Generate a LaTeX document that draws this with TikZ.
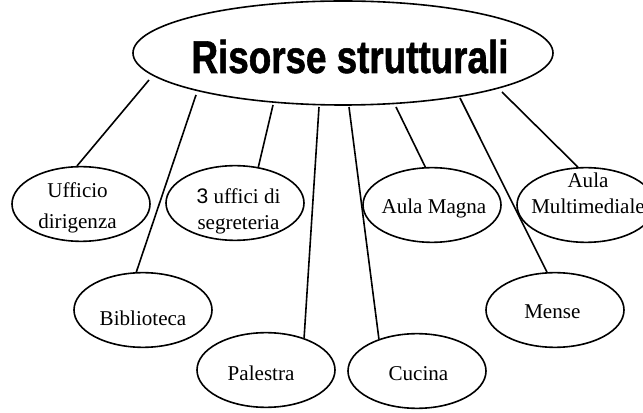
\documentclass[tikz,border=0pt]{standalone}
\usepackage{fontspec}
\setmainfont{Liberation Serif}
\newfontfamily\titlefont[FakeStretch=0.8,FakeBold=1.2]{Liberation Sans}
\newfontfamily\numfont{Liberation Sans}
\usetikzlibrary{shapes.geometric}
\newcommand{\roomtext}[3]{\makebox[0pt]{\hspace*{#1}\hspace*{#1}\raisebox{#2}{\begin{tabular}{@{}c@{}}#3\end{tabular}}}}

\begin{document}
\begin{tikzpicture}[x=0.75pt, y=-0.75pt, line width=1.2pt]
  \tikzset{roomblob/.style={draw, ellipse, inner sep=0pt, minimum width=103.5pt, minimum height=56pt,
             text height=8pt, text depth=0pt, font=\fontsize{15.8}{19.5}\selectfont},
           mainblob/.style={draw, ellipse, inner sep=0pt, minimum width=315pt, minimum height=78pt,
             text height=30pt, text depth=0pt, font=\titlefont\bfseries\fontsize{34.5}{40}\selectfont}}
  \useasboundingbox (0,0) rectangle (643,413);
  \node[mainblob] (risorse) at (343,53) {\makebox[0pt]{\hspace*{10.5pt}Risorse strutturali}};
  \node[roomblob] (ufficio) at (81,204) {\roomtext{-2.6pt}{-2.5pt}{Ufficio\\[3.75pt]dirigenza}};
  \node[roomblob] (segreteria) at (235,203) {\roomtext{2.6pt}{-5.5pt}{{\numfont 3} uffici di\\segreteria}};
  \node[roomblob] (magna) at (432,205) {\roomtext{1.5pt}{-2pt}{Aula Magna}};
  \node[roomblob] (multi) at (586,205) {\roomtext{1.5pt}{7.6pt}{Aula\\Multimediale}};
  \node[roomblob] (biblio) at (143,310) {\roomtext{0pt}{-7.3pt}{Biblioteca}};
  \node[roomblob] (palestra) at (266,370) {\roomtext{-3.7pt}{-3.5pt}{Palestra}};
  \node[roomblob] (cucina) at (417,371) {\roomtext{1.1pt}{-2.8pt}{Cucina}};
  \node[roomblob] (mense) at (555,310) {\roomtext{-2pt}{-2pt}{Mense}};
  % start points just under the big ellipse
  \coordinate (toUfficio) at (149,80);
  \coordinate (toBiblio) at (196,95);
  \coordinate (toSegreteria) at (273,105);
  \coordinate (toPalestra) at (319,107);
  \coordinate (toCucina) at (349,107);
  \coordinate (toMagna) at (396,107);
  \coordinate (toMense) at (460,98);
  \coordinate (toMulti) at (502,92);
  \draw (toUfficio) -- (ufficio.96);
  \draw (toBiblio) -- (biblio.100);
  \draw (toSegreteria) -- (segreteria.57);
  \draw (toPalestra) -- (palestra.40);
  \draw (toCucina) -- (cucina.140);
  \draw (toMagna) -- (magna.100);
  \draw (toMense) -- (mense.102);
  \draw (toMulti) -- (multi.102);
\end{tikzpicture}
\end{document}
